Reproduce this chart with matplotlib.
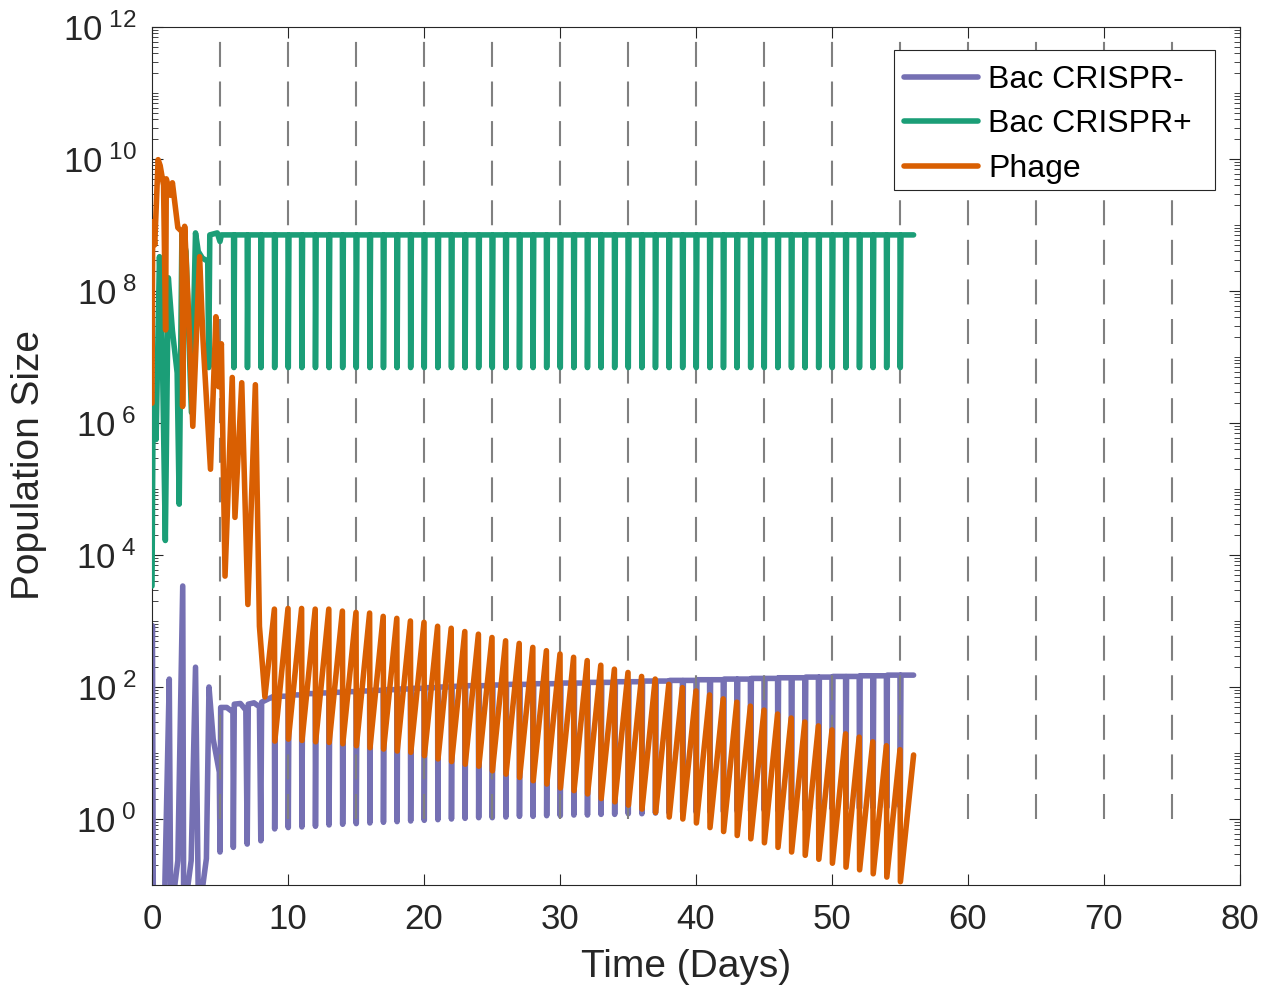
import numpy as np
import matplotlib.pyplot as plt
from matplotlib.patches import Rectangle
from matplotlib.ticker import FixedLocator, LogLocator, NullFormatter

plt.rcParams['font.family'] = ['Liberation Sans', 'DejaVu Sans']
plt.rcParams['mathtext.fontset'] = 'custom'
plt.rcParams['mathtext.rm'] = 'Liberation Sans'
plt.rcParams['mathtext.it'] = 'Liberation Sans:italic'

# colours (Dark2)
PURPLE = '#7570b3'
GREEN = '#1b9e77'
ORANGE = '#d95f02'
INK = '#262626'

# ---- early transient, days 0-9: time (days) and log10 population ----
neg_early_t = [0.0, 0.03, 0.1, 0.9, 0.96, 1.27, 1.38, 1.9, 2.26, 2.33, 2.88, 3.2, 3.42,
               4.0, 4.19, 4.5, 4.95, 5.0, 5.05, 5.5, 5.95, 5.98, 6.05, 6.5, 6.9, 7.0,
               7.08, 7.5, 7.9, 8.0, 8.06, 8.95]
neg_early_log = [2.32, 2.93, -1.5, -1.5, -0.86, 2.12, -1.5, -0.63, 3.53, -1.5, -0.63, 2.30, -1.5,
                 -0.6, 2.0, 1.21, 0.71, -0.5, 1.69, 1.69, 1.62, -0.43, 1.74, 1.75, 1.65, -0.38,
                 1.74, 1.76, 1.70, -0.33, 1.77, 1.86]

pos_early_t = [0.0, 0.08, 0.3, 0.55, 0.75, 0.98, 1.2, 1.5, 1.85, 2.0, 2.2, 2.5, 2.9,
               3.2, 3.4, 3.7, 4.1, 4.17, 4.25, 4.8, 5.0, 5.1, 5.95]
pos_early_log = [3.53, 6.3, 5.75, 8.52, 7.2, 4.22, 8.2, 7.4, 6.76, 4.77, 8.88, 8.6, 6.16,
                 8.88, 8.6, 8.5, 8.45, 6.84, 8.85, 8.88, 8.75, 8.85, 8.85]

phage_early_t = [0.0, 0.05, 0.2, 0.45, 0.6, 0.85, 1.0, 1.05, 1.35, 1.5, 1.9, 2.2, 2.25,
                 2.4, 2.7, 3.0, 3.5, 3.75, 4.3, 4.7, 4.9, 5.1, 5.37, 5.9, 6.1, 6.6,
                 7.05, 7.6, 7.9, 8.3, 9.0]
phage_early_log = [6.3, 9.05, 8.7, 9.99, 9.9, 9.6, 7.41, 9.7, 9.45, 9.64, 8.96, 8.9, 6.25,
                   8.98, 7.6, 5.95, 8.52, 7.26, 5.3, 7.61, 6.55, 7.2, 3.68, 6.69, 4.57, 6.61,
                   3.25, 6.58, 2.92, 1.85, 3.18]

# ---- daily serial transfers ----
end_day = 56

neg_days = list(range(9, 56))
neg_low = [-0.15, -0.13, -0.12, -0.11, -0.09, -0.08, -0.07, -0.06, -0.05, -0.04,
           -0.03, -0.02, -0.01, 0.00, 0.01, 0.02, 0.02, 0.03, 0.04, 0.04,
           0.05, 0.05, 0.06, 0.06, 0.07, 0.07, 0.08, 0.08, 0.09, 0.09,
           0.10, 0.10, 0.11, 0.11, 0.12, 0.12, 0.13, 0.13, 0.14, 0.14,
           0.15, 0.15, 0.16, 0.16, 0.17, 0.17, 0.18]
neg_top = [1.86, 1.88, 1.90, 1.91, 1.92, 1.93, 1.94, 1.95, 1.96, 1.97,
           1.98, 1.99, 2.00, 2.01, 2.02, 2.02, 2.03, 2.04, 2.04, 2.05,
           2.05, 2.06, 2.06, 2.07, 2.07, 2.08, 2.08, 2.09, 2.09, 2.10,
           2.10, 2.11, 2.11, 2.12, 2.12, 2.13, 2.13, 2.14, 2.14, 2.15,
           2.15, 2.16, 2.16, 2.17, 2.17, 2.18, 2.18]

pos_days = list(range(6, 56))
pos_low = 6.84
pos_top = 8.85

phage_days = list(range(9, 56))
phage_low = [1.18, 1.21, 1.19, 1.17, 1.16, 1.14, 1.11, 1.08, 1.06, 1.03,
             1.01, 0.96, 0.91, 0.87, 0.83, 0.80, 0.73, 0.68, 0.63, 0.58,
             0.53, 0.47, 0.43, 0.38, 0.31, 0.26, 0.21, 0.15, 0.10, 0.03,
             0.00, -0.06, -0.13, -0.19, -0.25, -0.30, -0.36, -0.43, -0.50, -0.55,
             -0.61, -0.67, -0.73, -0.77, -0.83, -0.88, -0.95]
# value reached at the next transfer (days 10..56)
phage_peak = [3.19, 3.19, 3.18, 3.18, 3.15, 3.13, 3.12, 3.07, 3.04, 3.00,
              2.98, 2.92, 2.89, 2.84, 2.80, 2.75, 2.70, 2.66, 2.60, 2.55,
              2.50, 2.45, 2.40, 2.33, 2.27, 2.22, 2.16, 2.12, 2.04, 1.99,
              1.94, 1.88, 1.82, 1.77, 1.71, 1.65, 1.59, 1.53, 1.47, 1.41,
              1.35, 1.29, 1.24, 1.17, 1.11, 1.05, 0.97]

dash_days = [5, 10, 15, 20, 25, 30, 35, 40, 45, 50, 55, 60, 65, 70, 75]


def bacteria_path(t0, y0, days, lows, tops):
    t, y = list(t0), list(y0)
    lows = np.broadcast_to(lows, len(days))
    tops = np.broadcast_to(tops, len(days))
    for d, lo, hi in zip(days, lows, tops):
        t += [d, d + 0.02, d + 0.07]
        y += [y[-1], lo, hi]
    t.append(end_day)
    y.append(y[-1])
    return np.array(t), 10.0 ** np.array(y)


def phage_path(t0, y0, days, lows, peaks):
    t, y = list(t0), list(y0)
    for d, lo, pk in zip(days, lows, peaks):
        t += [d + 0.03, d + 1]
        y += [lo, pk]
    return np.array(t), 10.0 ** np.array(y)


neg_t, neg_y = bacteria_path(neg_early_t, neg_early_log, neg_days, neg_low, neg_top)
pos_t, pos_y = bacteria_path(pos_early_t, pos_early_log, pos_days, pos_low, pos_top)
ph_t, ph_y = phage_path(phage_early_t, phage_early_log, phage_days, phage_low, phage_peak)

W, H = 1268, 990
fig = plt.figure(figsize=(W / 100, H / 100), dpi=100)
ax = fig.add_axes([152 / W, 1 - 885 / H, (1240 - 152) / W, (885 - 27) / H])

kw = dict(lw=4.0, solid_joinstyle='round', solid_capstyle='round')
ax.plot(neg_t, neg_y, color=PURPLE, label='Bac CRISPR-', zorder=2, **kw)
ax.vlines(dash_days, 1, 1e12, colors='#808080', linestyles=(0, (12, 7)), lw=1.5, zorder=2.5)
ax.plot(pos_t, pos_y, color=GREEN, label='Bac CRISPR+', zorder=3, **kw)
ax.plot(ph_t, ph_y, color=ORANGE, label='Phage', zorder=4, **kw)

ax.set_yscale('log')
ax.set_xlim(0, 80)
ax.set_ylim(1e-1, 1e12)

ax.xaxis.set_major_locator(FixedLocator(range(0, 81, 10)))
ax.set_xticklabels([str(v) for v in range(0, 81, 10)])
ax.yaxis.set_major_locator(FixedLocator([10.0 ** k for k in range(0, 13, 2)]))
ax.set_yticklabels([r'$10^{\ %d}$' % k for k in range(0, 13, 2)])
ax.yaxis.set_minor_locator(LogLocator(base=10, subs=np.arange(1, 10), numticks=60))
ax.yaxis.set_minor_formatter(NullFormatter())

ax.tick_params(which='both', direction='in', top=True, right=True, colors=INK,
               labelcolor=INK)
ax.tick_params(axis='x', which='major', length=8, width=0.8, labelsize=25, pad=13)
ax.tick_params(axis='y', which='major', length=8, width=0.8, labelsize=25, pad=11)
ax.tick_params(axis='y', which='minor', length=4, width=0.6)
for s in ax.spines.values():
    s.set_linewidth(0.8)
    s.set_color(INK)

ax.set_xlabel('Time (Days)', fontsize=28, color=INK)
ax.set_ylabel('Population Size', fontsize=28, color=INK)
ax.xaxis.set_label_coords(0.491, -0.0745)
ax.yaxis.set_label_coords(-0.0965, 0.4895)

# legend box drawn separately to match the wide MATLAB frame
frame = Rectangle((894 / W, 1 - 190 / H), (1215 - 894) / W, 140 / H,
                  transform=fig.transFigure, facecolor='white', edgecolor=INK,
                  lw=0.8, zorder=9, clip_on=False)
ax.add_artist(frame)
leg = ax.legend(loc='upper left', bbox_to_anchor=(904 / W, 1 - 65 / H),
                bbox_transform=fig.transFigure, borderaxespad=0, borderpad=0,
                fontsize=23, handlelength=2.32, labelspacing=0.45, handletextpad=0.31,
                frameon=False)
leg.set_zorder(10)

fig.savefig('out.png', dpi=100)
